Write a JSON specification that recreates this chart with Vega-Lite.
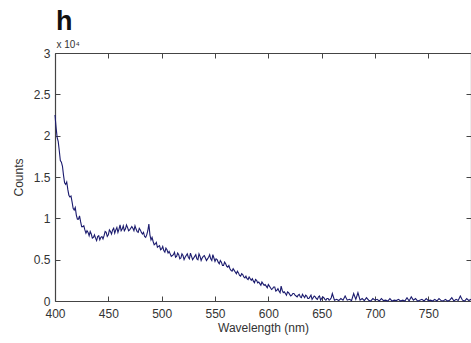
{
  "$schema": "https://vega.github.io/schema/vega-lite/v6.json",
  "width": 416,
  "height": 248,
  "autosize": {"type": "none"},
  "padding": {"left": 55, "top": 53, "right": 0, "bottom": 42},
  "background": "white",
  "title": {"text": "h", "anchor": "start", "frame": "group", "fontSize": 27, "fontWeight": "bold", "font": "Liberation Sans", "color": "#111", "dx": 1, "offset": 3},
  "config": {
    "view": {"stroke": null},
    "axis": {"grid": false, "domainColor": "#444", "tickColor": "#444", "labelFont": "Liberation Sans", "labelFontSize": 12, "labelColor": "#333", "titleFont": "Liberation Sans", "titleFontSize": 12, "titleFontWeight": "normal", "titleColor": "#333", "tickSize": -5, "labelPadding": 10, "domainWidth": 1.2, "labelFlush": false}
  },
  "data": {"values": [
{"w":400,"c":22500},{"w":402,"c":19800},{"w":404,"c":18200},{"w":406,"c":16800},{"w":408,"c":15200},{"w":410,"c":14100},{"w":412,"c":13500},{"w":414,"c":12600},{"w":416,"c":12000},{"w":418,"c":11000},{"w":420,"c":10400},{"w":422,"c":9900},{"w":424,"c":9600},{"w":426,"c":9000},{"w":428,"c":8600},{"w":430,"c":8500},{"w":432,"c":7900},{"w":434,"c":8100},{"w":436,"c":7700},{"w":438,"c":7600},{"w":440,"c":7800},{"w":442,"c":7400},{"w":444,"c":7800},{"w":446,"c":7900},{"w":448,"c":8300},{"w":450,"c":8000},{"w":452,"c":8400},{"w":454,"c":8600},{"w":456,"c":8200},{"w":458,"c":8900},{"w":460,"c":8700},{"w":462,"c":8500},{"w":464,"c":9100},{"w":466,"c":8700},{"w":468,"c":8900},{"w":470,"c":8600},{"w":472,"c":9000},{"w":474,"c":8500},{"w":476,"c":8700},{"w":478,"c":8300},{"w":480,"c":8600},{"w":482,"c":8100},{"w":484,"c":7800},{"w":486,"c":8000},{"w":488,"c":9300},{"w":490,"c":7400},{"w":492,"c":7200},{"w":494,"c":6900},{"w":496,"c":6500},{"w":498,"c":6700},{"w":500,"c":6300},{"w":502,"c":6100},{"w":504,"c":6400},{"w":506,"c":5800},{"w":508,"c":5700},{"w":510,"c":5500},{"w":512,"c":5900},{"w":514,"c":5400},{"w":516,"c":5600},{"w":518,"c":5200},{"w":520,"c":5500},{"w":522,"c":5300},{"w":524,"c":5700},{"w":526,"c":5100},{"w":528,"c":5400},{"w":530,"c":5200},{"w":532,"c":5600},{"w":534,"c":5000},{"w":536,"c":5400},{"w":538,"c":5200},{"w":540,"c":5500},{"w":542,"c":4900},{"w":544,"c":5300},{"w":546,"c":5100},{"w":548,"c":5600},{"w":550,"c":4800},{"w":552,"c":5000},{"w":554,"c":4500},{"w":556,"c":4700},{"w":558,"c":4300},{"w":560,"c":4500},{"w":562,"c":4100},{"w":564,"c":3900},{"w":566,"c":3600},{"w":568,"c":3700},{"w":570,"c":3300},{"w":572,"c":3400},{"w":574,"c":3000},{"w":576,"c":3200},{"w":578,"c":2800},{"w":580,"c":2700},{"w":582,"c":2900},{"w":584,"c":2500},{"w":586,"c":2400},{"w":588,"c":2600},{"w":590,"c":2200},{"w":592,"c":2100},{"w":594,"c":2300},{"w":596,"c":1900},{"w":598,"c":1800},{"w":600,"c":2000},{"w":602,"c":1600},{"w":604,"c":1500},{"w":606,"c":1700},{"w":608,"c":1300},{"w":610,"c":1200},{"w":612,"c":1800},{"w":614,"c":1000},{"w":616,"c":900},{"w":618,"c":1100},{"w":620,"c":800},{"w":622,"c":700},{"w":624,"c":900},{"w":626,"c":600},{"w":628,"c":700},{"w":630,"c":500},{"w":632,"c":800},{"w":634,"c":400},{"w":636,"c":600},{"w":638,"c":300},{"w":640,"c":700},{"w":642,"c":400},{"w":644,"c":500},{"w":646,"c":200},{"w":648,"c":600},{"w":650,"c":300},{"w":652,"c":400},{"w":654,"c":100},{"w":656,"c":300},{"w":658,"c":200},{"w":660,"c":900},{"w":662,"c":100},{"w":664,"c":200},{"w":666,"c":50},{"w":668,"c":300},{"w":670,"c":100},{"w":672,"c":600},{"w":674,"c":100},{"w":676,"c":200},{"w":678,"c":50},{"w":680,"c":900},{"w":682,"c":200},{"w":684,"c":1000},{"w":686,"c":100},{"w":688,"c":300},{"w":690,"c":50},{"w":692,"c":400},{"w":694,"c":100},{"w":696,"c":0},{"w":698,"c":300},{"w":700,"c":100},{"w":702,"c":200},{"w":704,"c":0},{"w":706,"c":300},{"w":708,"c":50},{"w":710,"c":100},{"w":712,"c":0},{"w":714,"c":300},{"w":716,"c":0},{"w":718,"c":100},{"w":720,"c":50},{"w":722,"c":200},{"w":724,"c":0},{"w":726,"c":100},{"w":728,"c":0},{"w":730,"c":400},{"w":732,"c":0},{"w":734,"c":500},{"w":736,"c":100},{"w":738,"c":300},{"w":740,"c":0},{"w":742,"c":100},{"w":744,"c":200},{"w":746,"c":0},{"w":748,"c":300},{"w":750,"c":50},{"w":752,"c":100},{"w":754,"c":0},{"w":756,"c":200},{"w":758,"c":0},{"w":760,"c":300},{"w":762,"c":50},{"w":764,"c":0},{"w":766,"c":200},{"w":768,"c":0},{"w":770,"c":100},{"w":772,"c":400},{"w":774,"c":0},{"w":776,"c":200},{"w":778,"c":50},{"w":780,"c":600},{"w":782,"c":100},{"w":784,"c":0},{"w":786,"c":300},{"w":788,"c":50},{"w":790,"c":200},
{"w":401,"c":21000},{"w":403,"c":19300},{"w":405,"c":17000},{"w":407,"c":16300},{"w":409,"c":14300},{"w":411,"c":14400},{"w":413,"c":12800},{"w":415,"c":12700},{"w":417,"c":11200},{"w":419,"c":11300},{"w":421,"c":9900},{"w":423,"c":10300},{"w":425,"c":9000},{"w":427,"c":9100},{"w":429,"c":8200},{"w":431,"c":8300},{"w":433,"c":8400},{"w":435,"c":7600},{"w":437,"c":8000},{"w":439,"c":7300},{"w":441,"c":7900},{"w":443,"c":7700},{"w":445,"c":7500},{"w":447,"c":8400},{"w":449,"c":7800},{"w":451,"c":8600},{"w":453,"c":8100},{"w":455,"c":8800},{"w":457,"c":8600},{"w":459,"c":8300},{"w":461,"c":9200},{"w":463,"c":8700},{"w":465,"c":8500},{"w":467,"c":9200},{"w":469,"c":8500},{"w":471,"c":8800},{"w":473,"c":8800},{"w":475,"c":9100},{"w":477,"c":8400},{"w":479,"c":8800},{"w":481,"c":8300},{"w":483,"c":8300},{"w":485,"c":7700},{"w":487,"c":8500},{"w":489,"c":8000},{"w":491,"c":7700},{"w":493,"c":6800},{"w":495,"c":7100},{"w":497,"c":6600},{"w":499,"c":6200},{"w":501,"c":6600},{"w":503,"c":5900},{"w":505,"c":6200},{"w":507,"c":6000},{"w":509,"c":5400},{"w":511,"c":5600},{"w":513,"c":5300},{"w":515,"c":5800},{"w":517,"c":5100},{"w":519,"c":5700},{"w":521,"c":5000},{"w":523,"c":5500},{"w":525,"c":5300},{"w":527,"c":5800},{"w":529,"c":5000},{"w":531,"c":5400},{"w":533,"c":5100},{"w":535,"c":5700},{"w":537,"c":4900},{"w":539,"c":5400},{"w":541,"c":5200},{"w":543,"c":5100},{"w":545,"c":5600},{"w":547,"c":4900},{"w":549,"c":5200},{"w":551,"c":5100},{"w":553,"c":4700},{"w":555,"c":4900},{"w":557,"c":4300},{"w":559,"c":4700},{"w":561,"c":4200},{"w":563,"c":4300},{"w":565,"c":3700},{"w":567,"c":3900},{"w":569,"c":3500},{"w":571,"c":3600},{"w":573,"c":3100},{"w":575,"c":3300},{"w":577,"c":2900},{"w":579,"c":3000},{"w":581,"c":2600},{"w":583,"c":2700},{"w":585,"c":2700},{"w":587,"c":2200},{"w":589,"c":2500},{"w":591,"c":2300},{"w":593,"c":1900},{"w":595,"c":2100},{"w":597,"c":2000},{"w":599,"c":1600},{"w":601,"c":1800},{"w":603,"c":1400},{"w":605,"c":1700},{"w":607,"c":1200},{"w":609,"c":1500},{"w":611,"c":1000},{"w":613,"c":1300},{"w":615,"c":1100},{"w":617,"c":700},{"w":619,"c":1000},{"w":621,"c":600},{"w":623,"c":900},{"w":625,"c":700},{"w":627,"c":500},{"w":629,"c":800},{"w":631,"c":400},{"w":633,"c":600},{"w":635,"c":700},{"w":637,"c":300},{"w":639,"c":500},{"w":641,"c":200},{"w":643,"c":600},{"w":645,"c":300},{"w":647,"c":500},{"w":649,"c":100},{"w":651,"c":500},{"w":653,"c":200},{"w":655,"c":300},{"w":657,"c":100},{"w":659,"c":400}
  ]},
  "resolve": {"axis": {"x": "independent", "y": "independent"}},
  "layer": [
    {
      "mark": {"type": "line", "color": "#1b1b6e", "strokeWidth": 1.1},
      "encoding": {
        "x": {"field": "w", "type": "quantitative", "scale": {"domain": [400, 790], "nice": false, "zero": false},
              "axis": {"title": "Wavelength (nm)", "values": [400, 450, 500, 550, 600, 650, 700, 750], "labelPadding": 12, "titlePadding": 3}},
        "y": {"field": "c", "type": "quantitative", "scale": {"domain": [0, 30000], "nice": false},
              "axis": {"title": "Counts", "values": [0, 5000, 10000, 15000, 20000, 25000, 30000], "labelExpr": "datum.value / 10000", "titlePadding": 8}},
        "order": {"field": "w", "type": "quantitative"}
      }
    },
    {
      "mark": {"type": "line", "opacity": 0},
      "encoding": {
        "x": {"field": "w", "type": "quantitative", "scale": {"domain": [400, 790], "nice": false, "zero": false},
              "axis": {"orient": "top", "labels": false, "title": "x 10⁴", "values": [400, 450, 500, 550, 600, 650, 700, 750], "titleX": 1, "titleY": -6, "titleAlign": "left", "titleAnchor": null, "titleBaseline": "alphabetic", "titleFontSize": 10}},
        "y": {"field": "c", "type": "quantitative", "scale": {"domain": [0, 30000], "nice": false},
              "axis": {"orient": "right", "labels": false, "title": null, "values": [0, 5000, 10000, 15000, 20000, 25000, 30000]}}
      }
    }
  ]
}
